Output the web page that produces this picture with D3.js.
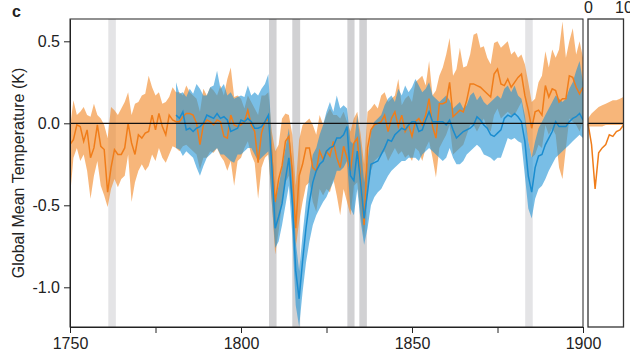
<!DOCTYPE html>
<html>
<head>
<meta charset="utf-8">
<script src="https://cdn.jsdelivr.net/npm/d3@7/dist/d3.min.js"></script>
<style>
  body { margin: 0; background: #fff; }
  svg { display: block; font-family: "Liberation Sans", Arial, sans-serif; }
  .axis text { font-size: 16px; fill: #222; }
  .axis path, .axis line { stroke: #222; }
</style>
</head>
<body>
<div id="chart"></div>
<script>
// years
const orangeStart = 1750;
const blueStart = 1781;

// orange reconstruction: mean, upper and lower bound (K), 1750-1900
const orangeMean = [
  -0.13, -0.10, -0.01, -0.02, -0.11, -0.04, -0.21, -0.15, -0.01, -0.14,
  -0.16, -0.42, -0.27, -0.16, -0.19, -0.19, -0.15, 0.00, -0.12, -0.19,
  -0.07, -0.09, -0.06, -0.05, 0.05, -0.04, 0.06, -0.02, -0.07, 0.05,
  0.02, 0.01, 0.01, 0.04, 0.06, 0.06, 0.05, 0.00, -0.13, -0.01,
  0.02, 0.01, -0.01, 0.02, 0.01, -0.08, -0.09, 0.05, -0.01, -0.02,
  -0.01, 0.01, 0.08, -0.01, -0.05, -0.24, -0.06, 0.01, 0.03, -0.19,
  -0.48, -0.34, -0.26, -0.11, -0.08, -0.29, -0.64, -0.32, -0.25, -0.15,
  -0.15, -0.27, -0.29, -0.17, -0.22, -0.17, -0.20, -0.11, -0.21, -0.27,
  -0.14, -0.21, -0.29, -0.12, -0.09, -0.34, -0.62, -0.15, -0.04, -0.01,
  0.00, 0.01, 0.05, -0.05, 0.03, 0.07, -0.02, 0.05, -0.05, -0.01,
  -0.08, 0.01, 0.03, -0.01, 0.05, 0.15, -0.02, -0.09, 0.12, 0.12,
  0.13, 0.25, 0.04, 0.06, 0.08, 0.07, 0.14, 0.24, 0.24, 0.23,
  0.22, 0.20, 0.18, 0.16, 0.30, 0.33, 0.24, 0.23, 0.27, 0.22,
  0.25, 0.28, 0.30, 0.17, 0.08, -0.03, 0.07, 0.08, 0.05, 0.23,
  0.16, 0.21, 0.20, 0.13, 0.15, 0.15, 0.29, 0.28, 0.22, 0.18, 0.22
];
const orangeHi = [
  -0.03, 0.14, 0.05, 0.07, 0.10, 0.05, 0.04, 0.12, 0.05, 0.03,
  -0.01, -0.09, 0.10, 0.08, 0.05, 0.09, 0.13, 0.19, 0.05, 0.12,
  0.13, 0.17, 0.18, 0.29, 0.22, 0.17, 0.19, 0.12, 0.13, 0.16,
  0.22, 0.19, 0.19, 0.17, 0.23, 0.19, 0.17, 0.15, 0.07, 0.21,
  0.17, 0.22, 0.20, 0.17, 0.23, 0.17, 0.27, 0.34, 0.16, 0.17,
  0.15, 0.09, 0.17, 0.13, 0.09, 0.05, 0.17, 0.17, 0.19, -0.05,
  -0.17, -0.13, 0.03, 0.06, 0.05, -0.07, -0.38, -0.10, -0.01, 0.01,
  0.03, -0.01, -0.07, 0.05, -0.01, 0.05, 0.09, 0.05, 0.05, 0.03,
  0.07, 0.01, -0.05, 0.03, 0.07, -0.07, -0.25, 0.07, 0.09, 0.12,
  0.09, 0.17, 0.19, 0.13, 0.15, 0.17, 0.27, 0.11, 0.15, 0.17,
  0.13, 0.25, 0.27, 0.29, 0.23, 0.38, 0.17, 0.20, 0.29, 0.34,
  0.42, 0.52, 0.29, 0.33, 0.46, 0.34, 0.35, 0.42, 0.54, 0.55,
  0.46, 0.47, 0.40, 0.36, 0.49, 0.50, 0.46, 0.48, 0.50, 0.42,
  0.44, 0.40, 0.42, 0.36, 0.25, 0.13, 0.15, 0.25, 0.29, 0.44,
  0.34, 0.45, 0.40, 0.45, 0.62, 0.40, 0.50, 0.58, 0.42, 0.50, 0.40
];
const orangeLo = [
  -0.45, -0.21, -0.15, -0.23, -0.19, -0.29, -0.46, -0.32, -0.23, -0.38,
  -0.44, -0.51, -0.40, -0.34, -0.39, -0.34, -0.32, -0.19, -0.48, -0.36,
  -0.29, -0.25, -0.29, -0.26, -0.19, -0.23, -0.15, -0.21, -0.24, -0.19,
  -0.14, -0.15, -0.17, -0.14, -0.13, -0.15, -0.17, -0.19, -0.28, -0.21,
  -0.21, -0.17, -0.18, -0.15, -0.20, -0.23, -0.29, -0.23, -0.38, -0.23,
  -0.21, -0.15, -0.11, -0.19, -0.24, -0.46, -0.27, -0.21, -0.19, -0.48,
  -0.80, -0.66, -0.48, -0.36, -0.32, -0.53, -0.76, -0.60, -0.48, -0.38,
  -0.36, -0.48, -0.54, -0.40, -0.44, -0.40, -0.42, -0.34, -0.44, -0.56,
  -0.40, -0.48, -0.56, -0.38, -0.36, -0.56, -0.70, -0.40, -0.29, -0.23,
  -0.21, -0.19, -0.17, -0.23, -0.19, -0.15, -0.19, -0.17, -0.21, -0.19,
  -0.23, -0.15, -0.17, -0.23, -0.15, -0.11, -0.21, -0.33, -0.15, -0.11,
  -0.07, -0.01, -0.19, -0.17, -0.15, -0.13, -0.07, -0.01, -0.01, -0.05,
  -0.01, 0.03, -0.03, -0.05, 0.05, 0.09, 0.03, 0.05, 0.07, 0.05,
  0.05, 0.09, 0.13, 0.01, -0.11, -0.21, -0.19, -0.13, -0.15, -0.01,
  -0.07, -0.03, -0.07, -0.27, -0.34, -0.15, 0.03, 0.01, -0.01, -0.05, 0.01
];

// blue reconstruction, 1781-1900
const blueMean = [
  0.05, 0.03, 0.07, -0.04, -0.03, -0.05, -0.03, -0.02, 0.00,
  0.05, 0.04, 0.03, 0.06, 0.03, 0.04, 0.02, -0.05, -0.04, -0.03,
  0.02, 0.01, 0.03, 0.01, -0.03, -0.03, -0.02, 0.01, 0.05, -0.25,
  -0.64, -0.57, -0.49, -0.34, -0.21, -0.48, -0.90, -1.07, -0.84, -0.64,
  -0.48, -0.36, -0.29, -0.25, -0.23, -0.17, -0.15, -0.14, -0.09, -0.09,
  -0.07, -0.02, -0.32, -0.35, -0.17, -0.37, -0.58, -0.42, -0.25, -0.24,
  -0.23, -0.19, -0.15, -0.10, -0.11, -0.07, -0.05, -0.03, -0.04, -0.01,
  0.01, 0.01, -0.05, -0.04, 0.02, 0.07, 0.01, 0.01, 0.01, 0.01,
  -0.01, 0.02, -0.04, -0.09, -0.07, -0.05, -0.04, -0.03, -0.01, 0.04,
  0.02, -0.01, -0.03, -0.07, -0.08, -0.06, -0.04, 0.03, 0.05, 0.04,
  0.06, 0.04, 0.01, -0.11, -0.32, -0.42, -0.27, -0.20, -0.19, -0.13,
  -0.09, -0.05, 0.01, -0.02, -0.02, -0.02, 0.01, 0.03, 0.04, 0.06, 0.02
];
const blueHi = [
  0.25, 0.18, 0.19, 0.16, 0.21, 0.18, 0.24, 0.21, 0.17,
  0.17, 0.22, 0.23, 0.32, 0.21, 0.24, 0.17, 0.19, 0.15, 0.16,
  0.17, 0.16, 0.23, 0.17, 0.19, 0.17, 0.21, 0.24, 0.30, -0.11,
  -0.48, -0.38, -0.27, -0.15, -0.03, -0.27, -0.72, -0.90, -0.68, -0.48,
  -0.32, -0.19, -0.15, -0.07, -0.01, 0.07, 0.13, 0.07, 0.17, 0.09,
  0.11, 0.09, -0.11, -0.13, 0.05, -0.13, -0.36, -0.23, -0.05, 0.01,
  0.03, 0.05, 0.11, 0.15, 0.17, 0.13, 0.21, 0.17, 0.23, 0.19,
  0.22, 0.27, 0.23, 0.19, 0.21, 0.25, 0.17, 0.15, 0.13, 0.15,
  0.17, 0.14, 0.09, 0.11, 0.13, 0.09, 0.11, 0.17, 0.19, 0.14,
  0.17, 0.13, 0.11, 0.13, 0.15, 0.17, 0.15, 0.21, 0.23, 0.19,
  0.23, 0.17, 0.15, 0.05, -0.11, -0.21, -0.11, -0.03, 0.01, 0.05,
  0.09, 0.13, 0.17, 0.15, 0.13, 0.15, 0.21, 0.25, 0.32, 0.38, 0.25
];
const blueLo = [
  -0.15, -0.16, -0.20, -0.17, -0.19, -0.21, -0.27, -0.32, -0.26,
  -0.21, -0.19, -0.17, -0.15, -0.19, -0.19, -0.21, -0.23, -0.24, -0.19,
  -0.19, -0.17, -0.15, -0.15, -0.19, -0.23, -0.21, -0.19, -0.17, -0.48,
  -0.76, -0.72, -0.62, -0.50, -0.38, -0.68, -1.11, -1.24, -1.03, -0.85,
  -0.72, -0.62, -0.56, -0.52, -0.48, -0.45, -0.40, -0.36, -0.29, -0.29,
  -0.27, -0.23, -0.52, -0.56, -0.40, -0.60, -0.74, -0.64, -0.50, -0.45,
  -0.42, -0.40, -0.36, -0.32, -0.29, -0.27, -0.25, -0.23, -0.23, -0.21,
  -0.21, -0.21, -0.23, -0.19, -0.17, -0.15, -0.17, -0.19, -0.21, -0.23,
  -0.21, -0.15, -0.21, -0.25, -0.25, -0.23, -0.19, -0.17, -0.15, -0.13,
  -0.15, -0.19, -0.20, -0.21, -0.23, -0.21, -0.21, -0.15, -0.09, -0.10,
  -0.09, -0.11, -0.12, -0.32, -0.52, -0.58, -0.46, -0.40, -0.38, -0.34,
  -0.29, -0.25, -0.21, -0.19, -0.17, -0.15, -0.13, -0.11, -0.09, -0.07, -0.09
];

// inset: years after eruption 0-10
const insetYears = [0, 1, 2, 3, 4, 5, 6, 7, 8, 9, 10];
const insetMean = [0.00, -0.13, -0.40, -0.18, -0.15, -0.13, -0.07, -0.08, -0.05, -0.04, -0.01];
const insetHi = [0.03, 0.06, 0.08, 0.10, 0.11, 0.12, 0.13, 0.14, 0.14, 0.15, 0.16];
const insetLo = [-0.02, -0.02, -0.02, -0.02, -0.02, -0.01, -0.01, -0.01, -0.01, -0.01, -0.01];

// volcanic eruptions (grey bars)
const eruptStart = [1761.2, 1808.2, 1815.0, 1831.1, 1834.6, 1883.1];
const eruptEnd = [1763.4, 1810.4, 1817.3, 1833.2, 1836.8, 1885.3];
const eruptDark = [false, true, true, true, true, false];

const xTicks = [1750, 1775, 1800, 1825, 1850, 1875, 1900];
const yTicks = [0.5, 0.0, -0.5, -1.0];
const insetTicks = [0, 10];

const W = 630, H = 359;
const margin = { top: 19, left: 70 };
const plotW = 513, plotH = 308;

const svg = d3.select('#chart').append('svg').attr('width', W).attr('height', H);

const x = d3.scaleLinear().domain([1750, 1900]).range([margin.left, margin.left + plotW]);
const y = d3.scaleLinear().domain([0.636, -1.242]).range([margin.top, margin.top + plotH]);
const xi = d3.scaleLinear().domain([0, 10]).range([588, 623.5]);

svg.append('clipPath').attr('id', 'clipMain')
  .append('rect').attr('x', margin.left).attr('y', margin.top).attr('width', plotW).attr('height', plotH);

const g = svg.append('g').attr('clip-path', 'url(#clipMain)');

// grey bands
g.selectAll('rect.erupt')
  .data(eruptStart.map((s, i) => ({ s: s, e: eruptEnd[i], dark: eruptDark[i] })))
  .join('rect')
  .attr('class', 'erupt')
  .attr('x', d => x(d.s))
  .attr('width', d => x(d.e) - x(d.s))
  .attr('y', margin.top)
  .attr('height', plotH)
  .attr('fill', d => d.dark ? '#d1d1d3' : '#e4e4e6');

const orangeData = orangeMean.map((m, i) => ({ yr: orangeStart + i, m: m, hi: orangeHi[i], lo: orangeLo[i] }));
const blueData = blueMean.map((m, i) => ({ yr: blueStart + i, m: m, hi: blueHi[i], lo: blueLo[i] }));

const area = d3.area().x(d => x(d.yr)).y0(d => y(d.lo)).y1(d => y(d.hi));
const line = d3.line().x(d => x(d.yr)).y(d => y(d.m));

g.append('path').datum(orangeData).attr('d', area).attr('fill', '#F28522').attr('fill-opacity', 0.6);
g.append('path').datum(blueData).attr('d', area).attr('fill', '#1F93D6').attr('fill-opacity', 0.6);
g.append('path').datum(orangeData).attr('d', line).attr('fill', 'none')
  .attr('stroke', '#F07D1A').attr('stroke-width', 1.5);
g.append('path').datum(blueData).attr('d', line).attr('fill', 'none')
  .attr('stroke', '#1A8CCF').attr('stroke-width', 1.5);

// zero line
svg.append('line')
  .attr('x1', margin.left).attr('x2', margin.left + plotW)
  .attr('y1', y(0)).attr('y2', y(0))
  .attr('stroke', '#111').attr('stroke-width', 1.3);

// frame
svg.append('rect')
  .attr('x', margin.left).attr('y', margin.top).attr('width', plotW).attr('height', plotH)
  .attr('fill', 'none').attr('stroke', '#222').attr('stroke-width', 1);

// axes
svg.append('g').attr('class', 'axis')
  .attr('transform', 'translate(0,' + (margin.top + plotH) + ')')
  .call(d3.axisBottom(x).tickValues(xTicks).tickFormat(d => d % 50 === 0 ? d : '').tickSize(6).tickPadding(5).tickSizeOuter(0));

svg.append('g').attr('class', 'axis')
  .attr('transform', 'translate(' + margin.left + ',0)')
  .call(d3.axisLeft(y).tickValues(yTicks).tickFormat(d => d.toFixed(1)).tickSize(6).tickPadding(4).tickSizeOuter(0));

svg.append('text')
  .attr('transform', 'translate(24,' + (margin.top + plotH / 2) + ') rotate(-90)')
  .attr('text-anchor', 'middle')
  .style('font-size', '16px').style('fill', '#222')
  .text('Global Mean Temperature (K)');

svg.append('text')
  .attr('x', 12).attr('y', 17)
  .style('font-size', '16px').style('font-weight', 'bold').style('fill', '#222')
  .text('c');

// inset panel
const insetData = insetYears.map((yr, i) => ({ yr: yr, m: insetMean[i], hi: insetHi[i], lo: insetLo[i] }));
const areaI = d3.area().x(d => xi(d.yr)).y0(d => y(d.lo)).y1(d => y(d.hi));
const lineI = d3.line().x(d => xi(d.yr)).y(d => y(d.m));

svg.append('path').datum(insetData).attr('d', areaI).attr('fill', '#F28522').attr('fill-opacity', 0.6);
svg.append('path').datum(insetData).attr('d', lineI).attr('fill', 'none')
  .attr('stroke', '#F07D1A').attr('stroke-width', 1.5);
svg.append('line')
  .attr('x1', xi(0)).attr('x2', xi(10))
  .attr('y1', y(0)).attr('y2', y(0))
  .attr('stroke', '#111').attr('stroke-width', 1.3);
svg.append('rect')
  .attr('x', xi(0)).attr('y', margin.top).attr('width', xi(10) - xi(0)).attr('height', plotH)
  .attr('fill', 'none').attr('stroke', '#333').attr('stroke-width', 1.3);

const topAxis = svg.append('g').attr('class', 'axis')
  .attr('transform', 'translate(0,' + margin.top + ')')
  .call(d3.axisTop(xi).tickValues(insetTicks).tickSize(0).tickPadding(6));
topAxis.select('.domain').remove();
</script>
</body>
</html>
